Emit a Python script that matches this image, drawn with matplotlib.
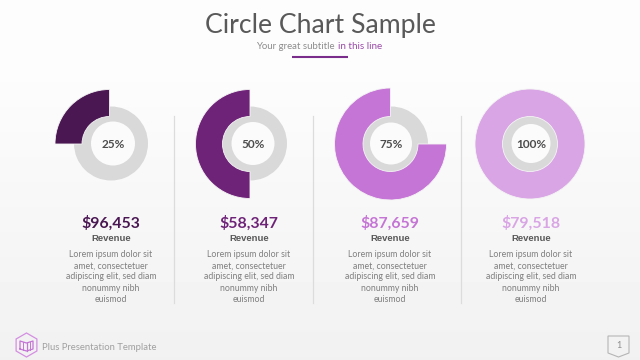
import matplotlib
matplotlib.use("Agg")
import matplotlib.pyplot as plt
import numpy as np
from matplotlib.patches import Circle, Polygon

percent = [25, 50, 75, 100]
money = ["$96,453", "$58,347", "$87,659", "$79,518"]
colors = ["#4a1753", "#6e2378", "#c575d5", "#d9a5e5"]
lorem = ["Lorem ipsum dolor sit", "amet, consectetuer", "adipiscing elit, sed diam", "nonummy nibh", "euismod"]

# centres are pixels in the slide
arc_x = [109.5, 250, 390.5, 530]
arc_r = [54.5, 54.5, 56, 55]
grey_x = [111, 250, 391, 531]
hole_x = [113, 253, 391, 531]
hole_r = [22, 21.5, 21, 19.5]
text_x = [111, 249, 390, 531]
divider_x = [173.5, 312.5, 460.5]

H = 360


def Y(y):
    return H - y


fig = plt.figure(figsize=(6.4, 3.6), dpi=100)
ax = fig.add_axes([0, 0, 1, 1])

grad = np.concatenate([np.full(70, 0.99), np.linspace(0.99, 0.945, 290)]).reshape(-1, 1)
ax.imshow(grad, extent=(0, 640, 0, H), cmap="gray", vmin=0, vmax=1, aspect="auto", zorder=0)

for i in range(4):
    ax.pie([100], colors=["#d9d9d9"], center=(grey_x[i], Y(143.5)), radius=37, frame=True,
           wedgeprops={"zorder": 2})
    ax.add_patch(Circle((hole_x[i], Y(143.5)), hole_r[i], fc="#fbfbfb", ec="none", zorder=4))
    wedges = ax.pie([percent[i], 100 - percent[i]], colors=[colors[i], "none"], startangle=90,
                    center=(arc_x[i], Y(144)), radius=arc_r[i], frame=True,
                    wedgeprops={"width": arc_r[i] - 27.5, "linewidth": 0, "zorder": 3})[0]
    wedges[0].set_edgecolor("#f4f4f4")
    wedges[0].set_linewidth(0.6)
    ax.text(hole_x[i], Y(144), "{}%".format(percent[i]), ha="center", va="center", family="Lato",
            weight="bold", fontsize=8.5, color="#4d4d4d", zorder=5)
    ax.text(text_x[i], Y(223), money[i], ha="center", va="center", family="Lato", fontsize=11.4,
            weight="bold", color=colors[i])
    ax.text(text_x[i], Y(238.5), "Revenue", ha="center", va="center", family="Liberation Sans",
            weight="bold", fontsize=6.8, color="#595959")
    for j, line in enumerate(lorem):
        ax.text(text_x[i], Y(254.5 + j * 11.2), line, ha="center", va="center", family="Lato",
                fontsize=6.3, color="#7f7f7f")

for x in divider_x:
    ax.plot([x, x], [Y(116), Y(303)], color="#dcdcdc", lw=0.9, zorder=1)

ax.text(320, Y(25), "Circle Chart Sample", ha="center", va="center", family="Lato", fontsize=19.2,
        color="#595959")
ax.text(256, Y(46.5), "Your great subtitle", ha="left", va="center", family="Lato", fontsize=6.9,
        color="#8c8c8c")
ax.text(337.5, Y(46.5), "in this line", ha="left", va="center", family="Lato", fontsize=7.1,
        color="#9a4aa8")
ax.plot([292, 348], [Y(56.5), Y(56.5)], color="#7b2d8b", lw=1.5, solid_capstyle="butt")

# logo hexagon and map glyph
ang = np.radians(np.arange(90, 450, 60))
ax.add_patch(Polygon(np.column_stack([26.5 + 12 * np.cos(ang), Y(345) + 12 * np.sin(ang)]),
                     fc="none", ec="#d48fe2", lw=0.9))
ax.plot([20, 20, 26.5, 33, 33, 26.5, 20], [Y(349), Y(341), Y(343), Y(341), Y(349), Y(351), Y(349)],
        color="#c575d5", lw=0.9)
ax.plot([26.5, 26.5], [Y(343), Y(351)], color="#c575d5", lw=0.9)
ax.plot([23, 23], [Y(342), Y(350)], color="#c575d5", lw=0.7)
ax.plot([30, 30], [Y(342), Y(350)], color="#c575d5", lw=0.7)
ax.text(42, Y(348), "Plus Presentation Template", ha="left", va="center", family="Lato", fontsize=6.85,
        color="#a0a0a0")

# page tag
ax.add_patch(Polygon([(608, Y(336)), (629, Y(336)), (629, Y(353)), (618.5, Y(357)), (608, Y(353))],
                     fc="none", ec="#b5b5b5", lw=0.8))
ax.text(618.5, Y(345.5), "1", ha="center", va="center", family="Lato", fontsize=6.5, color="#8c8c8c")

ax.set_xlim(0, 640)
ax.set_ylim(0, H)
ax.axis("off")
fig.savefig("out.png", dpi=100)
